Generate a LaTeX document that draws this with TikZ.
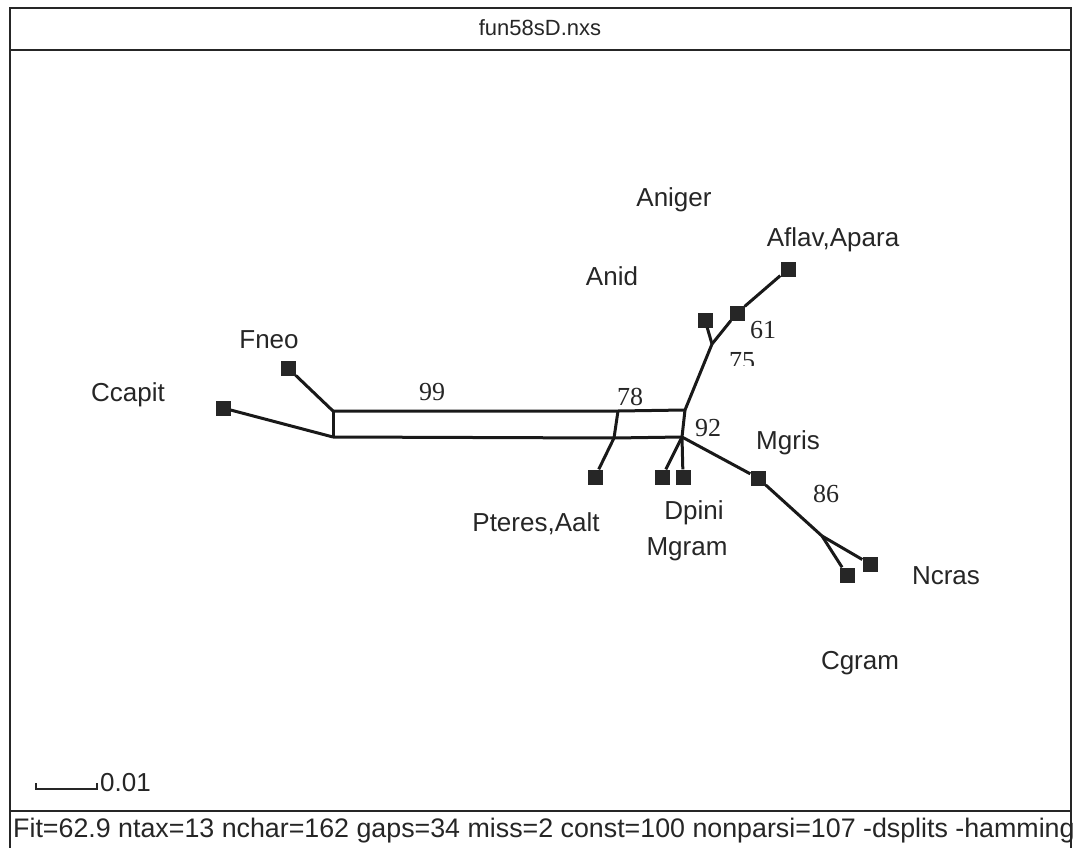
\documentclass[tikz,border=0pt]{standalone}
\usepackage{fontspec}
\setmainfont{Liberation Sans}
\newfontfamily\numfont{Liberation Serif}
\begin{document}
\begin{tikzpicture}[x=1pt,y=-1pt,
  frame/.style={draw=black!85,line width=2.2pt},
  edge/.style={draw=black!90,line width=3pt},
  leaf/.style={rectangle,fill=black!85,minimum size=15pt,inner sep=0pt},
  taxon/.style={font=\fontsize{26}{28}\selectfont,text=black!85,inner sep=0pt},
  support/.style={font=\numfont\fontsize{26}{28}\selectfont,text=black!85,inner sep=0pt},
  info/.style={font=\fontsize{26.8}{28}\selectfont,text=black!85,inner sep=0pt}]
\useasboundingbox (0,0) rectangle (1079,848);
\fill[white] (0,0) rectangle (1079,848);

% window frame, title band and status band
\coordinate (f1) at (10,8);
\coordinate (f2) at (1071,8);
\coordinate (f3) at (10,848);
\coordinate (f4) at (1071,848);
\coordinate (t1) at (10,50);
\coordinate (t2) at (1071,50);
\coordinate (s1) at (10,811);
\coordinate (s2) at (1071,811);
\draw[frame] (f3) -- (f1) -- (f2) -- (f4);
\draw[frame] (t1) -- (t2);
\draw[frame] (s1) -- (s2);
\node[font=\fontsize{22}{24}\selectfont,text=black!85,inner sep=0pt] (title) at (540,28) {fun58sD.nxs};
\node[info,anchor=west] (status) at (13,831) {Fit=62.9 ntax=13 nchar=162 gaps=34 miss=2 const=100 nonparsi=107 -dsplits -hamming};

% split-graph corners
\coordinate (tl) at (333,411);
\coordinate (bl) at (333,437);
\coordinate (tm) at (618,411);
\coordinate (bm) at (614,438);
\coordinate (tr) at (685,410);
\coordinate (br) at (682,437);
\coordinate (ja) at (712,344);
\coordinate (jc) at (822,536);

% leaves
\node[leaf] (ccapit) at (223,408) {};
\node[leaf] (fneo) at (288,368) {};
\node[leaf] (pteres) at (595,477) {};
\node[leaf] (dpini) at (662,477) {};
\node[leaf] (mgram) at (683,477) {};
\node[leaf] (anid) at (705,320) {};
\node[leaf] (aflav) at (737,313) {};
\node[leaf] (apara) at (788,269) {};
\node[leaf] (mgris) at (758,478) {};
\node[leaf] (cgram) at (847,575) {};
\node[leaf] (ncras) at (870,564) {};

% edges
\draw[edge] (ccapit) -- (bl);
\draw[edge] (fneo) -- (tl);
\draw[edge] (tl) -- (bl);
\draw[edge] (tl) -- (tm) -- (tr);
\draw[edge] (bl) -- (bm) -- (br);
\draw[edge] (tm) -- (bm);
\draw[edge] (tr) -- (br);
\draw[edge] (bm) -- (pteres);
\draw[edge] (br) -- (dpini);
\draw[edge] (br) -- (mgram);
\draw[edge] (tr) -- (ja);
\draw[edge] (ja) -- (anid);
\draw[edge] (ja) -- (aflav);
\draw[edge] (aflav) -- (apara);
\draw[edge] (br) -- (mgris);
\draw[edge] (mgris) -- (jc);
\draw[edge] (jc) -- (cgram);
\draw[edge] (jc) -- (ncras);

% taxon names
\node[taxon] (lAniger) at (674,200) {Aniger};
\node[taxon] (lAflav) at (833,240) {Aflav,Apara};
\node[taxon] (lAnid) at (612,276) {Anid};
\node[taxon] (lFneo) at (269,340) {Fneo};
\node[taxon] (lCcapit) at (128,395) {Ccapit};
\node[taxon] (lMgris) at (788,443) {Mgris};
\node[taxon] (lPteres) at (536,524) {Pteres,Aalt};
\node[taxon] (lDpini) at (694,513) {Dpini};
\node[taxon] (lMgram) at (687,549) {Mgram};
\node[taxon] (lNcras) at (946,576) {Ncras};
\node[taxon] (lCgram) at (860,663) {Cgram};

% bootstrap support values
\node[support] (b99) at (432,392) {99};
\node[support] (b78) at (630,397) {78};
\node[support] (b92) at (708,428) {92};
\node[support] (b61) at (763,330) {61};
\begin{scope}
  \clip (720,340) rectangle (770,365);
  \node[support] (b75) at (742,361) {75};
\end{scope}
\node[support] (b86) at (826,494) {86};

% scale bar
\coordinate (sa) at (36,783);
\coordinate (sb) at (36,789);
\coordinate (sc) at (97,789);
\coordinate (sd) at (97,783);
\draw[draw=black!85,line width=1.8pt] (sa) -- (sb) -- (sc) -- (sd);
\node[taxon,anchor=west] (scale) at (100,783) {0.01};
\end{tikzpicture}
\end{document}
